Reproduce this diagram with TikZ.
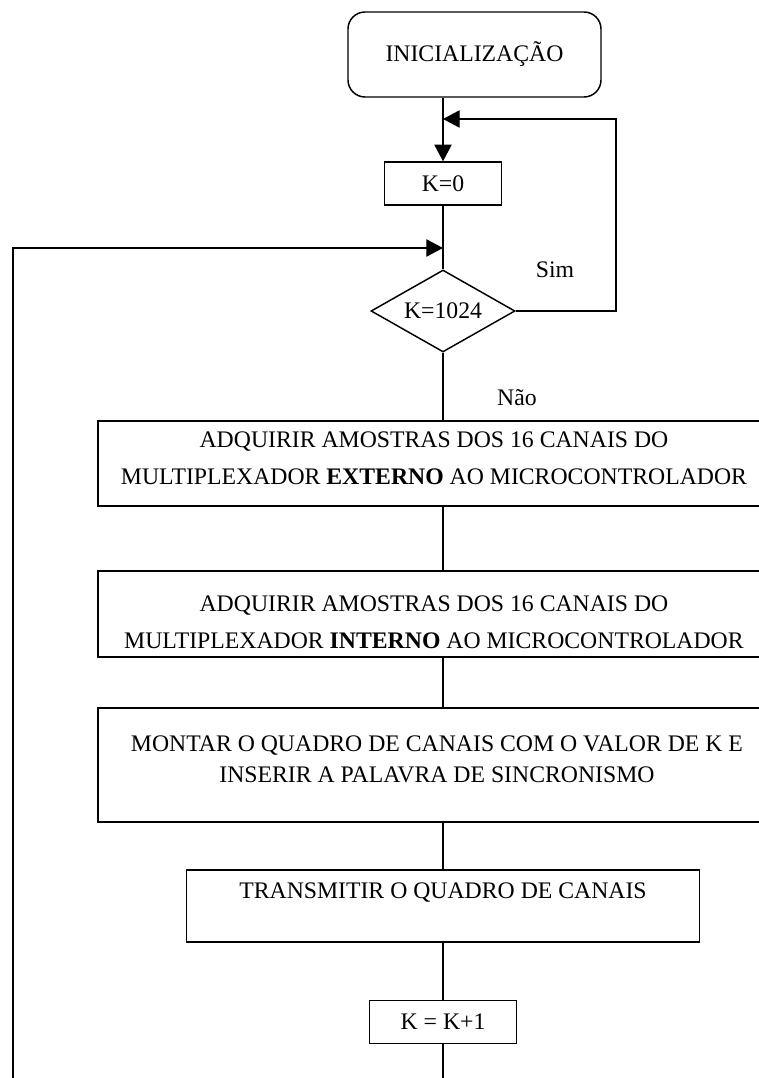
\documentclass[tikz,border=0pt]{standalone}
\usepackage{fontspec}
\setmainfont{Liberation Serif}
\usetikzlibrary{shapes.geometric,arrows.meta}
\begin{document}
\begin{tikzpicture}[x=0.75pt,y=-0.75pt,
  box/.style={draw, line width=1.1pt, inner sep=0pt, font=\fontsize{17.8}{27.7}\selectfont},
  txt/.style={inner sep=0pt, align=center, font=\fontsize{17.8}{27.7}\selectfont},
  conn/.style={line width=0.9pt},
  arr/.style={conn, -{Triangle[length=12.5pt,width=13pt]}}]
\useasboundingbox (0,0) rectangle (759,1078);
\clip (0,0) rectangle (759,1078);
\fill[white] (0,0) rectangle (759,1078);
% nodes
\node[box, rounded corners=12.75pt, minimum width=189.75pt, minimum height=63.75pt] (ini) at (474.5,54.5) {INICIALIZAÇÃO};
\node[box, minimum width=87.75pt, minimum height=32.25pt] (k0) at (443,183.5) {K=0};
\node[box, diamond, aspect=1.76, minimum width=108pt, minimum height=61.5pt] (dia) at (443,311) {K=1024};
\node[box, minimum width=504pt, minimum height=63.75pt] (b1) at (434,463.5) {};
\node[txt] (t1) at (434,458) {ADQUIRIR AMOSTRAS DOS 16 CANAIS DO\\MULTIPLEXADOR \textbf{EXTERNO} AO MICROCONTROLADOR};
\node[box, minimum width=504pt, minimum height=64.5pt] (b2) at (434,614) {};
\node[txt] (t2) at (434,622) {ADQUIRIR AMOSTRAS DOS 16 CANAIS DO\\MULTIPLEXADOR \textbf{INTERNO} AO MICROCONTROLADOR};
\node[box, minimum width=504pt, minimum height=85.5pt] (b3) at (434,765) {};
\node[txt, font=\fontsize{17.8}{23.25}\selectfont] (t3) at (437,759) {MONTAR O QUADRO DE CANAIS COM O VALOR DE K E\\INSERIR A PALAVRA DE SINCRONISMO};
\node[box, minimum width=385pt, minimum height=54pt] (b4) at (443,906) {};
\node[txt] (t4) at (443,893) {TRANSMITIR O QUADRO DE CANAIS};
\node[box, minimum width=110pt, minimum height=32.25pt] (kinc) at (443,1022) {K = K+1};
\node[txt] (sim) at (555,270) {Sim};
\node[txt] (nao) at (517,398) {Não};
% helper coordinates
\coordinate (jt) at (443,119);
\coordinate (rc) at (616,311);
\coordinate (jl) at (443,248);
\coordinate (bl) at (13,1100);
\coordinate (bm) at (443,1100);
% connectors
\draw[arr] (ini.south -| k0.north) -- (k0.north);
\draw[arr] (dia.east) -- (rc) |- (jt);
\draw[conn] (k0.south) -- (dia.north);
\draw[conn] (dia.south) -- (dia.south |- b1.north);
\draw[conn] (dia.south |- b1.south) -- (dia.south |- b2.north);
\draw[conn] (dia.south |- b2.south) -- (dia.south |- b3.north);
\draw[conn] (dia.south |- b3.south) -- (b4.north);
\draw[conn] (b4.south) -- (kinc.north);
\draw[arr] (kinc.south) -- (bm) -- (bl) |- (jl);
\end{tikzpicture}
\end{document}
